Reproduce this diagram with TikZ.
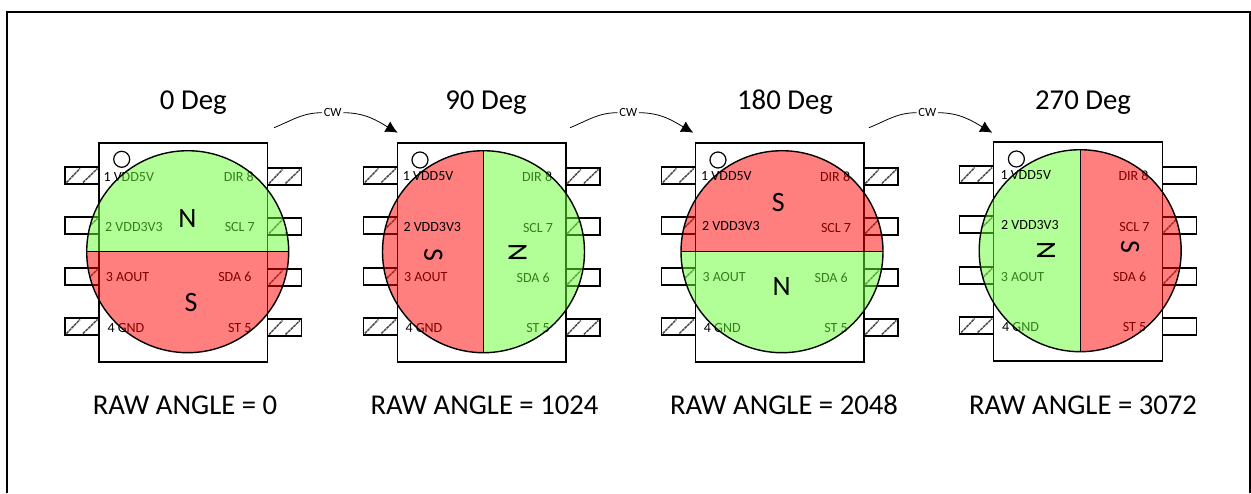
\documentclass[tikz,border=0pt]{standalone}
\usepackage{fontspec}
\setmainfont{Carlito}
\usetikzlibrary{positioning,arrows.meta}

% The eight pins of one chip: name, x, y
\newcommand{\chippins}[3]{%
  \foreach \py/\pn in {24/1,74/2,125/3,175/4}
    \node [pin, anchor=north east] (#1p\pn) at (#2,#3+\py) {};
  \foreach \py/\pn in {25/8,75/7,126/6,176/5}
    \node [pin, anchor=north west] (#1p\pn) at (#2+168.5,#3+\py) {};
}
\newcommand{\pinhatch}[1]{%
  \draw [hatchline] ([xshift=1.5,yshift=1.5]#1.south west) -- ([xshift=15,yshift=-1.5]#1.north west);
  \draw [hatchline] ([xshift=18,yshift=1.5]#1.south west) -- ([xshift=-1.5,yshift=-1.5]#1.north east);
}

\begin{document}
\begin{tikzpicture}[
    x=1pt, y=-1pt,
    pin/.style={draw, line width=1.4pt, fill=white, minimum width=34pt, minimum height=17pt, inner sep=0pt, outer sep=0pt},
    hatchline/.style={gray!60!black, line width=1.5pt, dash pattern=on 3pt off 0.7pt},
    chipbox/.style={draw, line width=1.4pt, fill=white, minimum width=168.5pt, minimum height=219pt, inner sep=0pt, outer sep=0pt, anchor=north west},
    dot/.style={draw, circle, line width=1.2pt, minimum size=16pt, inner sep=0pt},
    pinleft/.style={font=\fontsize{14}{15}\selectfont, anchor=west, inner sep=0pt},
    pinright/.style={font=\fontsize{14}{15}\selectfont, anchor=east, inner sep=0pt},
    pole/.style={font=\fontsize{28}{30}\selectfont, inner sep=0pt},
    title/.style={font=\fontsize{28.8}{30}\selectfont, inner sep=0pt},
    rawtext/.style={font=\fontsize{28.7}{30}\selectfont, inner sep=0pt},
    cwtext/.style={font=\fontsize{12.5}{13}\selectfont, fill=white, inner sep=1.5pt},
    cwline/.style={line width=0.8pt},
    halfgreen/.style={fill={rgb,255:red,102;green,255;blue,51}, fill opacity=0.5},
    halfred/.style={fill={rgb,255:red,255;green,0;blue,0}, fill opacity=0.5},
    ring/.style={draw, line width=1.4pt}
  ]
  \useasboundingbox (0,0) rectangle (1251,493);

  % Outer frame, open at the bottom
  \draw [line width=2pt] (6.5,493) -- (6.5,11.5) -- (1250,11.5) -- (1250,493);

  % Pins of all chips
  \chippins{a}{99}{143}
  \chippins{b}{397.3}{143}
  \chippins{c}{695.3}{143}
  \chippins{d}{993.7}{142}

  % Hatched pins
  \foreach \pname in {ap1,ap4,ap5,ap8,bp1,bp4,bp5,bp8,cp1,cp4,cp5,cp8,dp1,dp4} {
    \pinhatch{\pname}
  }

  % Hatching that only shows under the magnet
  \begin{scope}
    \clip (187.7,251.7) circle (101);
    \foreach \pname in {ap2,ap3,ap6,ap7} {\pinhatch{\pname}}
  \end{scope}
  \begin{scope}
    \clip (483.5,251.7) circle (101);
    \foreach \pname in {bp2,bp3,bp6,bp7} {\pinhatch{\pname}}
  \end{scope}
  \begin{scope}
    \clip (782,251.7) circle (101);
    \foreach \pname in {cp2,cp3,cp6,cp7} {\pinhatch{\pname}}
  \end{scope}
  \begin{scope}
    \clip (1080.2,250.7) circle (101);
    \foreach \pname in {dp2,dp3,dp6,dp7} {\pinhatch{\pname}}
  \end{scope}

  % Chip bodies
  \node [chipbox] (chipa) at (99,143) {};
  \node [chipbox] (chipb) at (397.3,143) {};
  \node [chipbox] (chipc) at (695.3,143) {};
  \node [chipbox] (chipd) at (993.7,142) {};
  \node [dot] (dota) at (121.7,159.3) {};
  \node [dot] (dotb) at (420,160) {};
  \node [dot] (dotc) at (718,160) {};
  \node [dot] (dotd) at (1016.4,159) {};

  % Pin labels that sit under the magnet
  \node [pinleft] (aone) at (103.3,176.7) {1 VDD5V};
  \node [pinleft] (atwo) at (105,226.7) {2 VDD3V3};
  \node [pinleft] (athree) at (105.7,277.3) {3 AOUT};
  \node [pinleft] (afour) at (107.3,327.7) {4 GND};
  \foreach \ox/\oy/\pre in {99/0/a,397.3/0.3/b,695.3/0.3/c,993.7/-0.7/d} {
    \node [pinright] (\pre eight) at (\ox+155,176.7+\oy) {DIR 8};
    \node [pinright] (\pre seven) at (\ox+156,227.3+\oy) {SCL 7};
    \node [pinright] (\pre six) at (\ox+152.7,277.3+\oy) {SDA 6};
    \node [pinright] (\pre five) at (\ox+152.7,327.7+\oy) {ST 5};
  }
  \node [pinleft] (bthree) at (404,277.3) {3 AOUT};
  \node [pinleft] (bfour) at (405.3,328) {4 GND};
  \node [pinleft] (cthree) at (702.3,277.3) {3 AOUT};
  \node [pinleft] (cfour) at (703.7,328) {4 GND};
  \node [pinleft] (dthree) at (1000.7,276.7) {3 AOUT};
  \node [pinleft] (dfour) at (1002,327.3) {4 GND};

  % Magnets
  \fill [halfred] (86.7,251.7) arc (180:360:101 and -101) -- cycle;
  \fill [halfgreen] (86.7,251.7) arc (180:0:101 and -101) -- cycle;
  \draw [ring] (187.7,251.7) circle (101);
  \draw [ring] (86.7,251.7) -- (288.7,251.7);

  \fill [halfred] (483.5,150.7) arc (90:270:101 and -101) -- cycle;
  \fill [halfgreen] (483.5,150.7) arc (90:-90:101 and -101) -- cycle;
  \draw [ring] (483.5,251.7) circle (101);
  \draw [ring] (483.5,150.7) -- (483.5,352.7);

  \fill [halfgreen] (681,251.7) arc (180:360:101 and -101) -- cycle;
  \fill [halfred] (681,251.7) arc (180:0:101 and -101) -- cycle;
  \draw [ring] (782,251.7) circle (101);
  \draw [ring] (681,251.7) -- (883,251.7);

  \fill [halfgreen] (1080.2,149.7) arc (90:270:101 and -101) -- cycle;
  \fill [halfred] (1080.2,149.7) arc (90:-90:101 and -101) -- cycle;
  \draw [ring] (1080.2,250.7) circle (101);
  \draw [ring] (1080.2,149.7) -- (1080.2,351.7);

  % Pin labels on top of the magnet
  \node [pinleft] (bone) at (402.7,175.7) {1 VDD5V};
  \node [pinleft] (btwo) at (403.3,226.7) {2 VDD3V3};
  \node [pinleft] (cone) at (701,175.7) {1 VDD5V};
  \node [pinleft] (ctwo) at (702,225.7) {2 VDD3V3};
  \node [pinleft] (done) at (1000.3,174.7) {1 VDD5V};
  \node [pinleft] (dtwo) at (1001,224.7) {2 VDD3V3};

  % Poles
  \node [pole] (an) at (187.3,218.3) {N};
  \node [pole] (as) at (191,302.3) {S};
  \node [pole, rotate=-90] (bs) at (433.3,255) {S};
  \node [pole, rotate=-90] (bn) at (517.7,252.3) {N};
  \node [pole] (cs) at (778.3,202.3) {S};
  \node [pole] (cn) at (781.7,286.7) {N};
  \node [pole, rotate=-90] (dn) at (1046,250.7) {N};
  \node [pole, rotate=-90] (ds) at (1130,246.7) {S};

  % Titles and readings
  \node [title] (deg0) at (193.3,102.5) {0 Deg};
  \node [title] (deg90) at (486,102.5) {90 Deg};
  \node [title] (deg180) at (785,102.5) {180 Deg};
  \node [title] (deg270) at (1083,102.5) {270 Deg};
  \node [rawtext] (raw0) at (185,405) {RAW ANGLE = 0};
  \node [rawtext] (raw1) at (484.5,405) {RAW ANGLE = 1024};
  \node [rawtext] (raw2) at (784,405) {RAW ANGLE = 2048};
  \node [rawtext] (raw3) at (1083,405) {RAW ANGLE = 3072};

  % Rotation arrows
  \foreach \sx/\lx/\ex/\cwn in {274/332.7/397.7/cwa,570/628.3/693.3/cwb,869/927.3/992.3/cwc} {
    \coordinate (\cwn s) at (\sx,127.7);
    \coordinate (\cwn e) at (\ex,132.7);
    \node [cwtext] (\cwn) at (\lx,112.7) {CW};
    \draw [cwline] (\cwn s) to [out=22,in=180] (\cwn.west);
    \draw [cwline, -{Latex[length=12pt,width=12pt]}] (\cwn.east) to [out=0,in=150] (\cwn e);
  }
\end{tikzpicture}
\end{document}
